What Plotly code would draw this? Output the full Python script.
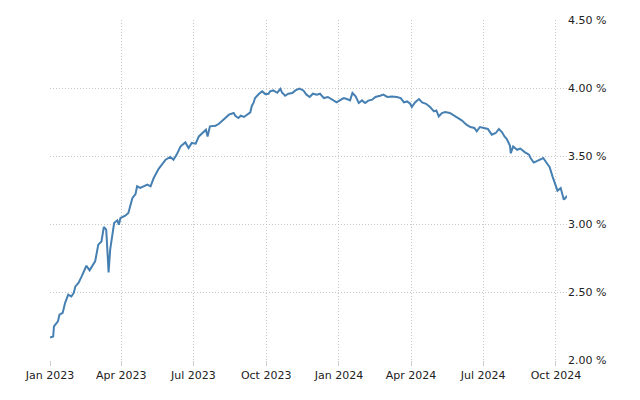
import pandas as pd
import plotly.graph_objects as go

start_date = "2023-01-01"
day_offsets = [0, 4, 5, 10, 12, 16, 19, 23, 27, 30, 32, 36, 40, 46, 50, 57, 61, 65, 68, 71,
               73, 74, 76, 80, 81, 85, 87, 89, 95, 99, 102, 104, 108, 110, 114, 123, 127, 131, 137, 146,
               152, 156, 160, 165, 171, 175, 179, 184, 188, 193, 197, 199, 202, 209, 213, 219, 226, 232, 234, 238,
               241, 245, 251, 253, 255, 257, 259, 264, 268, 272, 276, 278, 282, 287, 291, 293, 297, 301, 306, 310,
               315, 320, 324, 328, 332, 337, 341, 346, 351, 356, 362, 366, 371, 375, 379, 382, 386, 390, 394, 398,
               402, 407, 411, 417, 421, 426, 432, 438, 443, 447, 451, 455, 457, 461, 466, 470, 475, 480, 485, 488,
               491, 495, 499, 505, 510, 515, 520, 526, 531, 536, 539, 543, 548, 553, 558, 563, 567, 571, 574, 577,
               581, 582, 585, 590, 594, 598, 600, 605, 607, 611, 615, 619, 623, 628, 631, 635, 638, 641, 645, 647,
               649, 651, 653]
yield_pct = [2.165, 2.173, 2.247, 2.284, 2.333, 2.346, 2.419, 2.480, 2.468, 2.493, 2.541, 2.566, 2.615, 2.693, 2.659, 2.725, 2.848, 2.872, 2.978, 2.958,
             2.750, 2.644, 2.811, 2.958, 3.007, 3.027, 2.995, 3.044, 3.061, 3.081, 3.154, 3.190, 3.220, 3.277, 3.265, 3.289, 3.277, 3.338, 3.404, 3.473,
             3.493, 3.473, 3.510, 3.571, 3.600, 3.559, 3.596, 3.591, 3.644, 3.674, 3.693, 3.644, 3.718, 3.723, 3.735, 3.767, 3.804, 3.816, 3.796, 3.779,
             3.796, 3.787, 3.816, 3.821, 3.870, 3.890, 3.926, 3.958, 3.975, 3.955, 3.958, 3.975, 3.982, 3.965, 3.993, 3.968, 3.943, 3.958, 3.963, 3.982,
             3.995, 3.982, 3.951, 3.934, 3.958, 3.951, 3.958, 3.926, 3.934, 3.914, 3.894, 3.909, 3.926, 3.919, 3.909, 3.963, 3.938, 3.890, 3.909, 3.890,
             3.907, 3.914, 3.934, 3.943, 3.951, 3.934, 3.938, 3.934, 3.926, 3.894, 3.901, 3.884, 3.860, 3.894, 3.919, 3.894, 3.884, 3.860, 3.828, 3.835,
             3.791, 3.816, 3.823, 3.816, 3.796, 3.779, 3.762, 3.730, 3.713, 3.706, 3.681, 3.713, 3.706, 3.699, 3.657, 3.669, 3.699, 3.674, 3.644, 3.625,
             3.575, 3.520, 3.570, 3.546, 3.555, 3.534, 3.527, 3.510, 3.485, 3.452, 3.464, 3.470, 3.485, 3.443, 3.420, 3.345, 3.300, 3.245, 3.265, 3.215,
             3.179, 3.191, 3.208]

y_ticks = [2.0, 2.5, 3.0, 3.5, 4.0, 4.5]
y_tick_labels = ["2.00 %", "2.50 %", "3.00 %", "3.50 %", "4.00 %", "4.50 %"]
x_ticks = ["2023-01-01", "2023-04-01", "2023-07-01", "2023-10-01",
           "2024-01-01", "2024-04-01", "2024-07-01", "2024-10-01"]

dates = pd.Timestamp(start_date) + pd.to_timedelta(day_offsets, unit="D")

fig = go.Figure(go.Scatter(
    x=dates, y=yield_pct, mode="lines",
    line=dict(color="#4680b2", width=2),
    hoverinfo="skip",
))

font = dict(family="DejaVu Sans", size=11, color="#222222")
grid = dict(showgrid=True, gridcolor="#c8c8c8", griddash="1px,2px", gridwidth=1)
fig.update_layout(
    width=640, height=400,
    margin=dict(l=50, r=73, t=20, b=40),
    paper_bgcolor="white", plot_bgcolor="white",
    showlegend=False,
    font=font,
    xaxis=dict(
        range=[dates[0], dates[-1]],
        tickvals=x_ticks, tickformat="%b %Y",
        ticks="outside", ticklen=5, tickcolor="#cccccc",
        showline=False, zeroline=False,
        tickfont=font, **grid,
    ),
    yaxis=dict(
        range=[2.0, 4.5], side="right",
        tickvals=y_ticks, ticktext=y_tick_labels,
        showline=False, zeroline=False, ticks="",
        tickfont=font, **grid,
    ),
)

fig.write_html("out.html")
